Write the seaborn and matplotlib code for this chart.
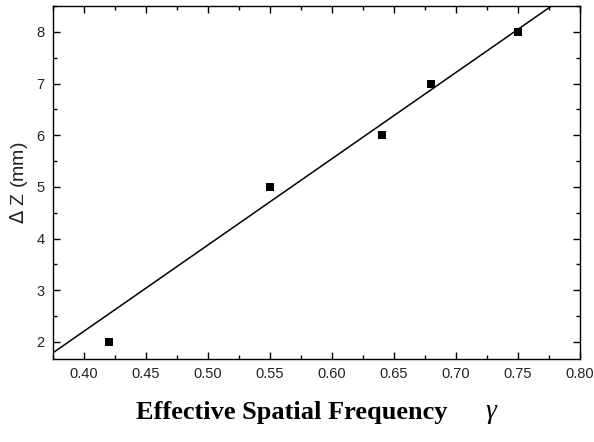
import numpy as np
import pandas as pd
import seaborn as sns
import matplotlib.pyplot as plt
from matplotlib.ticker import MultipleLocator

# measured points
freq = [0.42, 0.55, 0.64, 0.68, 0.75]
delta_z = [2, 5, 6, 7, 8]

# fitted line, two points
fit_x = [0.375, 0.777]
fit_y = [1.79, 8.5]

x_ticks = [0.40, 0.45, 0.50, 0.55, 0.60, 0.65, 0.70, 0.75, 0.80]
y_ticks = [2, 3, 4, 5, 6, 7, 8]

sns.set_theme(style="ticks")
plt.rcParams['font.family'] = ['Liberation Sans', 'DejaVu Sans']

fig = plt.figure(figsize=(5.94, 4.42), dpi=100)
ax = fig.add_axes([0.0892, 0.1878, 0.8872, 0.7986])

pts = pd.DataFrame({"freq": freq, "dz": delta_z})
line = pd.DataFrame({"freq": fit_x, "dz": fit_y})

sns.lineplot(data=line, x="freq", y="dz", ax=ax, color="black", lw=1.1)
sns.scatterplot(data=pts, x="freq", y="dz", ax=ax, marker="s", s=40,
                color="black", edgecolor="black", linewidth=0, zorder=3)

ax.set_xlim(0.375, 0.80)
ax.set_ylim(1.67, 8.5)
ax.set_xticks(x_ticks)
ax.set_xticklabels([f"{v:.2f}" for v in x_ticks])
ax.set_yticks(y_ticks)
ax.xaxis.set_minor_locator(MultipleLocator(0.025))
ax.yaxis.set_minor_locator(MultipleLocator(0.5))

ax.tick_params(which="both", direction="in", top=True, right=True,
               color="black", width=1, labelsize=10.5, labelcolor="#222222")
ax.tick_params(which="major", length=5, pad=6)
ax.tick_params(which="minor", length=3)
for sp in ax.spines.values():
    sp.set_color("black")
    sp.set_linewidth(1)

ax.set_ylabel(r"$\Delta$ Z (mm)", fontsize=14, color="#222222", labelpad=5)
ax.set_xlabel("")
fig.text(0.491, 0.066, "Effective Spatial Frequency", ha="center", va="center",
         fontsize=19, fontweight="bold", color="black",
         family=["Liberation Serif", "DejaVu Serif"])
fig.text(0.826, 0.07, "γ", ha="center", va="center", fontsize=20, color="black",
         style="italic", family=["Liberation Serif", "DejaVu Serif"])

fig.savefig("out.png", dpi=100)
